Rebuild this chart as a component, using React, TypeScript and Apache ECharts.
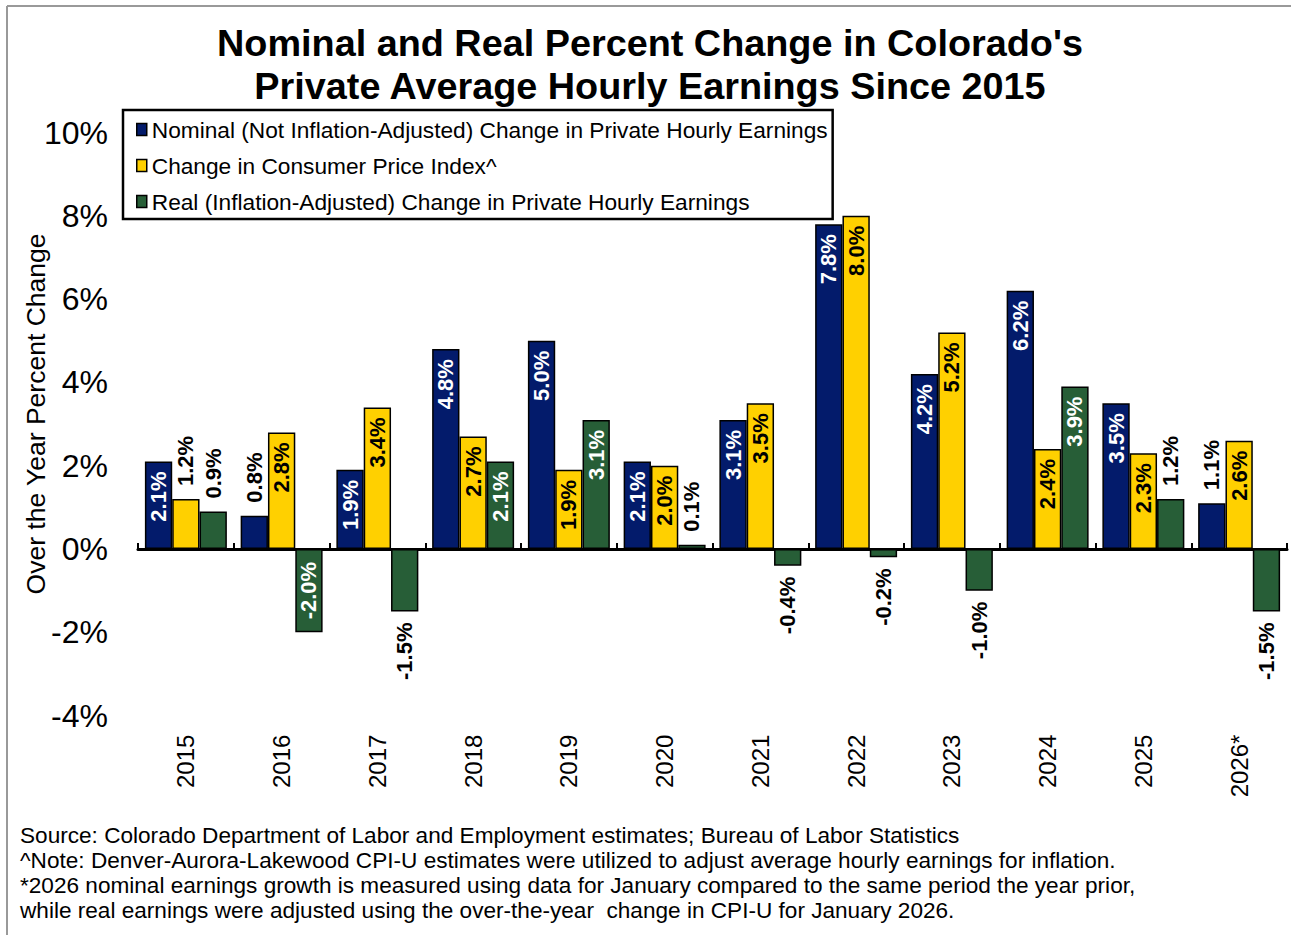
import React, { useEffect, useRef } from "react";
import * as echarts from "echarts";

const years = ["2015", "2016", "2017", "2018", "2019", "2020", "2021", "2022", "2023", "2024", "2025", "2026*"];
const nominal = [2.1, 0.8, 1.9, 4.8, 5.0, 2.1, 3.1, 7.8, 4.2, 6.2, 3.5, 1.1];
const cpi = [1.2, 2.8, 3.4, 2.7, 1.9, 2.0, 3.5, 8.0, 5.2, 2.4, 2.3, 2.6];
const real = [0.9, -2.0, -1.5, 2.1, 3.1, 0.1, -0.4, -0.2, -1.0, 3.9, 1.2, -1.5];
const yTicks = { min: -4, max: 10, interval: 2 };

const seriesNames = [
  "Nominal (Not Inflation-Adjusted) Change in Private Hourly Earnings",
  "Change in Consumer Price Index^",
  "Real (Inflation-Adjusted) Change in Private Hourly Earnings",
];
const titleLines = [
  "Nominal and Real Percent Change in Colorado's",
  "Private Average Hourly Earnings Since 2015",
];
const notes = [
  "Source: Colorado Department of Labor and Employment estimates; Bureau of Labor Statistics",
  "^Note: Denver-Aurora-Lakewood CPI-U estimates were utilized to adjust average hourly earnings for inflation.",
  "*2026 nominal earnings growth is measured using data for January compared to the same period the year prior,",
  "while real earnings were adjusted using the over-the-year  change in CPI-U for January 2026.",
];
const yTitle = "Over the Year Percent Change";

const NAVY = "#031b6b";
const YELLOW = "#ffd000";
const GREEN = "#275e37";
const FONT = "'Liberation Sans', Arial, sans-serif";

function labelFor(v: number, insideColor: string) {
  const inside = Math.abs(v) >= 1.8;
  const base = {
    show: true,
    rotate: 90,
    verticalAlign: "middle",
    fontFamily: FONT,
    fontWeight: "bold",
    fontSize: 22,
    formatter: v.toFixed(1) + "%",
  };
  if (v >= 0) {
    return inside
      ? { ...base, position: "insideTop", align: "right", distance: 10, color: insideColor }
      : { ...base, position: "top", align: "left", distance: 13, color: "#000" };
  }
  return inside
    ? { ...base, position: "insideBottom", align: "left", distance: 13, color: insideColor }
    : { ...base, position: "bottom", align: "right", distance: 11, color: "#000" };
}

function makeData(values: number[], insideColor: string) {
  return values.map((v) => ({ value: v, label: labelFor(v, insideColor) }));
}

export default function App() {
  const ref = useRef<HTMLDivElement>(null);
  useEffect(() => {
    document.body.style.margin = "0";
    const chart = echarts.init(ref.current!, null, { renderer: "svg" });
    const barStyle = (c: string) => ({ color: c, borderColor: "#000", borderWidth: 1.5 });
    chart.setOption({
      animation: false,
      backgroundColor: "#fff",
      grid: { left: 138, right: 4, top: 132.5, bottom: 219.4, containLabel: false },
      legend: {
        orient: "vertical",
        left: 123,
        top: 110,
        icon: "rect",
        itemWidth: 10,
        itemHeight: 12,
        itemGap: 13,
        padding: [8, 5, 6, 13],
        borderColor: "#000",
        borderWidth: 2.5,
        itemStyle: { borderColor: "#000", borderWidth: 1.5 },
        textStyle: { fontFamily: FONT, fontSize: 22.7, color: "#000" },
        data: seriesNames,
      },
      xAxis: [
        {
          type: "category",
          data: years,
          position: "bottom",
          axisLine: { show: false, onZero: false },
          axisTick: { show: false },
          axisLabel: { rotate: 90, fontFamily: FONT, fontSize: 24, color: "#000", margin: 19 },
        },
        {
          type: "category",
          data: years,
          position: "bottom",
          axisLine: { show: true, onZero: true, lineStyle: { color: "#000", width: 3 } },
          axisTick: { show: true, inside: true, length: 6, lineStyle: { color: "#000", width: 2 } },
          axisLabel: { show: false },
        },
      ],
      yAxis: {
        type: "value",
        min: yTicks.min,
        max: yTicks.max,
        interval: yTicks.interval,
        axisLine: { show: false },
        axisTick: { show: false },
        splitLine: { show: false },
        axisLabel: { formatter: "{value}%", fontFamily: FONT, fontSize: 32, color: "#000", margin: 30 },
      },
      series: [
        { name: seriesNames[0], type: "bar", xAxisIndex: 0, barGap: "0%", barCategoryGap: "14.4%", itemStyle: barStyle(NAVY), data: makeData(nominal, "#fff") },
        { name: seriesNames[1], type: "bar", xAxisIndex: 0, barGap: "0%", barCategoryGap: "14.4%", itemStyle: barStyle(YELLOW), data: makeData(cpi, "#000") },
        { name: seriesNames[2], type: "bar", xAxisIndex: 0, barGap: "0%", barCategoryGap: "14.4%", itemStyle: barStyle(GREEN), data: makeData(real, "#fff") },
      ],
      graphic: [
        { type: "line", shape: { x1: 7, y1: 6, x2: 1291, y2: 6 }, style: { stroke: "#999", lineWidth: 2 }, silent: true },
        { type: "line", shape: { x1: 7, y1: 6, x2: 7, y2: 935 }, style: { stroke: "#999", lineWidth: 2 }, silent: true },
        ...titleLines.map((t, i) => ({
          type: "text",
          x: 650,
          y: 43 + i * 43,
          style: { text: t, fontFamily: FONT, fontWeight: "bold", fontSize: 37.8, fill: "#000", textAlign: "center", textVerticalAlign: "middle" },
        })),
        {
          type: "text",
          x: 36,
          y: 414,
          rotation: Math.PI / 2,
          style: { text: yTitle, fontFamily: FONT, fontSize: 26.5, fill: "#000", textAlign: "center", textVerticalAlign: "middle" },
        },
        ...notes.map((t, i) => ({
          type: "text",
          x: 20,
          y: 835 + i * 25.3,
          style: { text: t, fontFamily: FONT, fontSize: 22.6, fill: "#000", textAlign: "left", textVerticalAlign: "middle" },
        })),
      ],
    });
    return () => chart.dispose();
  }, []);
  return <div ref={ref} style={{ width: 1291, height: 935 }} />;
}
